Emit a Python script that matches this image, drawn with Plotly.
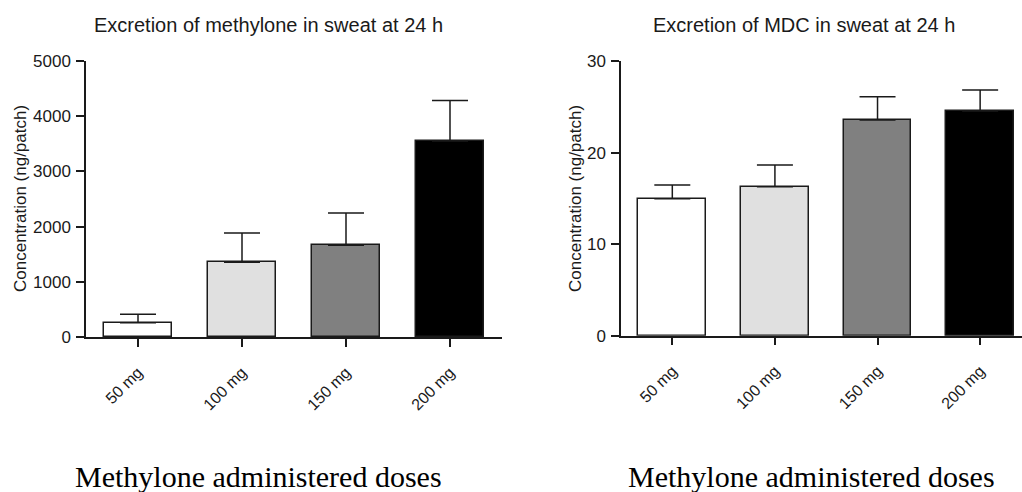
import plotly.graph_objects as go

doses = ["50 mg", "100 mg", "150 mg", "200 mg"]
methylone_mean = [260, 1353, 1661, 3551]
methylone_err = [150, 531, 585, 732]
mdc_mean = [14.96, 16.27, 23.56, 24.54]
mdc_err = [1.5, 2.37, 2.54, 2.29]
bar_colors = ["#ffffff", "#e0e0e0", "#808080", "#000000"]
left_ticks = [0, 1000, 2000, 3000, 4000, 5000]
right_ticks = [0, 10, 20, 30]

W, H = 1022, 492
def px(x):
    return x / W
def py(y):
    return (H - y) / H

SANS = "Liberation Sans, Arial, sans-serif"
SERIF = "Liberation Serif, Times New Roman, serif"
INK = "#1a1a1a"

fig = go.Figure()
fig.add_trace(go.Bar(
    x=list(range(4)), y=methylone_mean, width=0.66,
    marker=dict(color=bar_colors, line=dict(color=INK, width=1.5)),
    error_y=dict(type="data", symmetric=False, array=methylone_err,
                 arrayminus=[0] * 4, color=INK, thickness=1.5, width=18),
    xaxis="x", yaxis="y", showlegend=False))
fig.add_trace(go.Bar(
    x=list(range(4)), y=mdc_mean, width=0.66,
    marker=dict(color=bar_colors, line=dict(color=INK, width=1.5)),
    error_y=dict(type="data", symmetric=False, array=mdc_err,
                 arrayminus=[0] * 4, color=INK, thickness=1.5, width=18),
    xaxis="x2", yaxis="y2", showlegend=False))

xcommon = dict(tickmode="array", tickvals=list(range(4)), ticktext=doses,
               tickangle=-45, ticks="outside", ticklen=8, tickwidth=1.5,
               tickcolor=INK, showline=True, linecolor=INK, linewidth=1.5,
               showgrid=False, zeroline=False, automargin=False,
               ticklabelstandoff=10,
               tickfont=dict(family=SANS, size=16, color=INK))
ycommon = dict(ticks="outside", ticklen=8, tickwidth=1.5, tickcolor=INK,
               showline=True, linecolor=INK, linewidth=1.5, showgrid=False,
               zeroline=False, automargin=False,
               tickfont=dict(family=SANS, size=17, color=INK),
               ticklabelstandoff=2)

fig.update_layout(
    width=W, height=H, margin=dict(l=0, r=0, t=0, b=0, autoexpand=False),
    paper_bgcolor="white", plot_bgcolor="white",
    xaxis=dict(domain=[px(86), px(502)], range=[-0.5, 3.5], anchor="y", **xcommon),
    yaxis=dict(domain=[py(337), py(61)], range=[0, 5000], anchor="x",
               tickvals=left_ticks, **ycommon),
    xaxis2=dict(domain=[px(621), 1.0], range=[-0.5, 3.408], anchor="y2", **xcommon),
    yaxis2=dict(domain=[py(335.7), py(61)], range=[0, 30], anchor="x2",
                tickvals=right_ticks, **ycommon),
    bargap=0,
)

ann = []
ann.append(dict(text="Excretion of methylone in sweat at 24 h", x=px(268.5), y=py(25),
                xref="paper", yref="paper", showarrow=False, xanchor="center", yanchor="middle",
                font=dict(family=SANS, size=20, color=INK)))
ann.append(dict(text="Excretion of MDC in sweat at 24 h", x=px(803.7), y=py(25),
                xref="paper", yref="paper", showarrow=False, xanchor="center", yanchor="middle",
                font=dict(family=SANS, size=20, color=INK)))
ann.append(dict(text="Concentration (ng/patch)", x=px(21), y=py(199), textangle=-90,
                xref="paper", yref="paper", showarrow=False, xanchor="center", yanchor="middle",
                font=dict(family=SANS, size=17, color=INK)))
ann.append(dict(text="Concentration (ng/patch)", x=px(576), y=py(199), textangle=-90,
                xref="paper", yref="paper", showarrow=False, xanchor="center", yanchor="middle",
                font=dict(family=SANS, size=17, color=INK)))
ann.append(dict(text="Methylone administered doses", x=px(258.5), y=py(476),
                xref="paper", yref="paper", showarrow=False, xanchor="center", yanchor="middle",
                font=dict(family=SERIF, size=30, color="#000000")))
ann.append(dict(text="Methylone administered doses", x=px(811), y=py(476),
                xref="paper", yref="paper", showarrow=False, xanchor="center", yanchor="middle",
                font=dict(family=SERIF, size=30, color="#000000")))
fig.update_layout(annotations=ann)

fig.write_html("out.html")
